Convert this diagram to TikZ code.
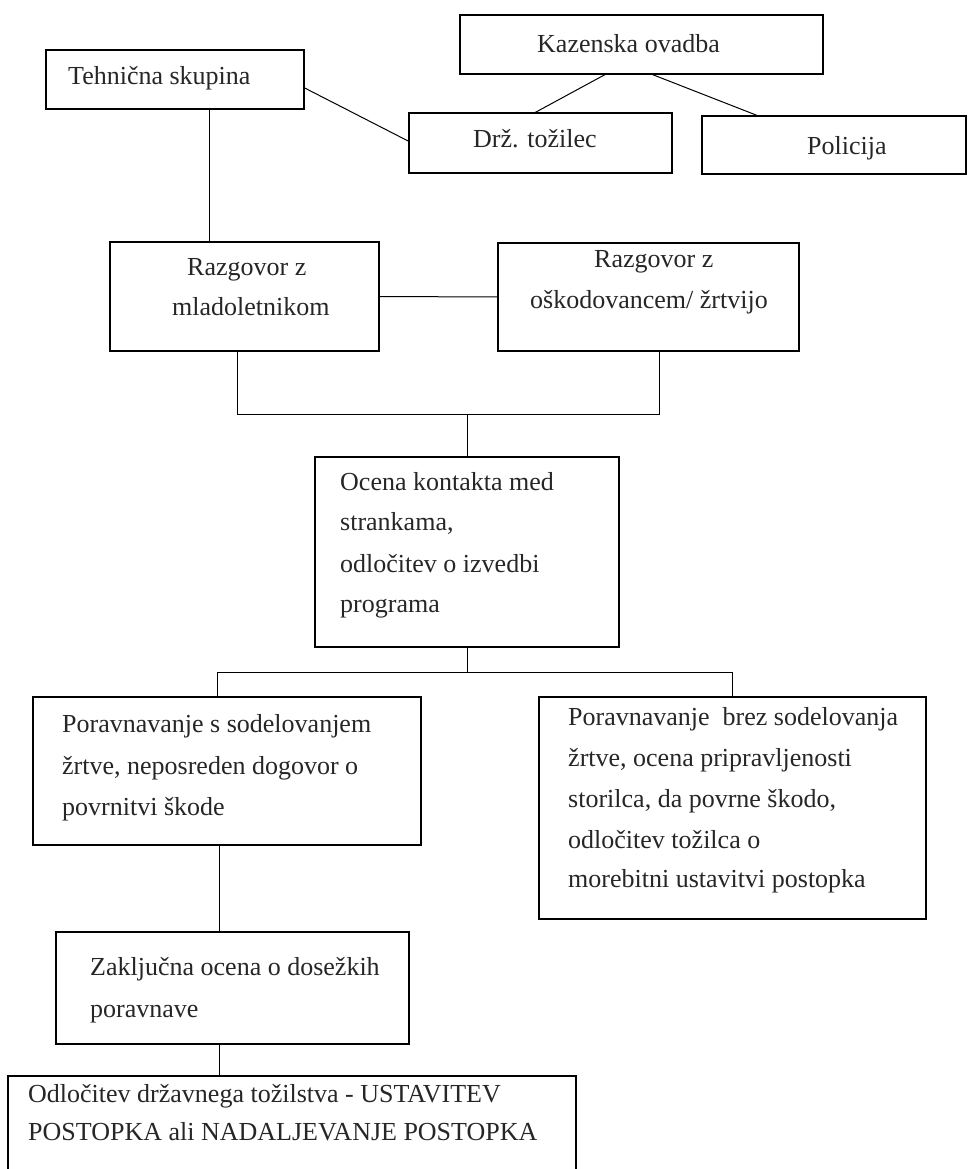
\documentclass[tikz,border=0pt]{standalone}
\usepackage{fontspec}
\setmainfont{Liberation Serif}
\usetikzlibrary{fit,calc}
\tikzset{
  box/.style={draw=black, line width=1.1pt, inner sep=0pt, rectangle},
  ln/.style={draw=black, line width=1pt},
  txt/.style={anchor=base west, inner sep=0pt, font=\fontsize{26}{30}\selectfont, text=black!85}
}
\begin{document}
\begin{tikzpicture}[x=1pt,y=-1pt]
\useasboundingbox (0,0) rectangle (968,1169);
\clip (0,0) rectangle (968,1169);
% boxes
\node[box, fit={(46,50) (304,109)}] (teh) {};
\node[box, fit={(460,15) (823,74)}] (kaz) {};
\node[box, fit={(409,113) (672,173)}] (drz) {};
\node[box, fit={(702,116) (966,174)}] (pol) {};
\node[box, fit={(110,242) (379,351)}] (raz1) {};
\node[box, fit={(498,243) (799,351)}] (raz2) {};
\node[box, fit={(315,457) (619,647)}] (oc) {};
\node[box, fit={(33,697) (421,845)}] (p1) {};
\node[box, fit={(539,697) (926,919)}] (p2) {};
\node[box, fit={(56,932) (409,1044)}] (zak) {};
\node[box, fit={(8,1076) (576,1200)}] (odl) {};
% texts
\node[txt] (tteh) at (68,85) {Tehnična skupina};
\node[txt] (tkaz) at (537,53) {Kazenska ovadba};
\node[txt] (tdrz) at (473,148) {Drž. tožilec};
\node[txt] (tpol) at (807,155) {Policija};
\node[txt] (traz1a) at (187,275) {Razgovor z};
\node[txt] (traz1b) at (172,315) {mladoletnikom};
\node[txt] (traz2a) at (594,267) {Razgovor z};
\node[txt] (traz2b) at (530,308) {oškodovancem/ žrtvijo};
\node[txt] (toca) at (340,490) {Ocena kontakta med};
\node[txt] (tocb) at (340,530) {strankama,};
\node[txt] (tocc) at (340,572) {odločitev o izvedbi};
\node[txt] (tocd) at (340,612) {programa};
\node[txt] (tp1a) at (62,732) {Poravnavanje s sodelovanjem};
\node[txt] (tp1b) at (62,774) {žrtve, neposreden dogovor o};
\node[txt] (tp1c) at (62,815) {povrnitvi škode};
\node[txt] (tp2a) at (568,725) {Poravnavanje\ \ brez sodelovanja};
\node[txt] (tp2b) at (568,766) {žrtve, ocena pripravljenosti};
\node[txt] (tp2c) at (568,807) {storilca, da povrne škodo,};
\node[txt] (tp2d) at (568,848) {odločitev tožilca o};
\node[txt] (tp2e) at (568,887) {morebitni ustavitvi postopka};
\node[txt] (tzaka) at (90,975) {Zaključna ocena o dosežkih};
\node[txt] (tzakb) at (90,1017) {poravnave};
\node[txt] (todla) at (28,1102) {Odločitev državnega tožilstva - USTAVITEV};
\node[txt] (todlb) at (28,1140) {POSTOPKA ali NADALJEVANJE POSTOPKA};
% helper coordinates
\coordinate (xA) at (209,0);
\coordinate (brY) at (0,414);
\coordinate (xB1) at (237,0);
\coordinate (xB2) at (659,0);
\coordinate (brY2) at (0,672);
\coordinate (xC1) at (217,0);
\coordinate (xD) at (219,0);
% connectors
\draw[ln] (teh.south -| xA) -- (raz1.north -| xA);
\draw[ln] ($(teh.north east)!0.64!(teh.south east)$) -- ($(drz.north west)!0.47!(drz.south west)$);
\draw[ln] ($(kaz.south west)!0.40!(kaz.south east)$) -- ($(drz.north west)!0.48!(drz.north east)$);
\draw[ln] ($(kaz.south west)!0.53!(kaz.south east)$) -- ($(pol.north west)!0.21!(pol.north east)$);
\draw[ln] (raz1.east) -- (raz2.west);
\draw[ln] (raz1.south -| xB1) -- (brY -| xB1) -- (brY -| xB2) -- (raz2.south -| xB2);
\draw[ln] (brY -| oc.north) -- (oc.north);
\draw[ln] (oc.south) -- (brY2 -| oc.south);
\draw[ln] (p1.north -| xC1) -- (brY2 -| xC1) -- (brY2 -| p2.north) -- (p2.north);
\draw[ln] (p1.south -| xD) -- (zak.north -| xD);
\draw[ln] (zak.south -| xD) -- (odl.north -| xD);
\end{tikzpicture}
\end{document}
